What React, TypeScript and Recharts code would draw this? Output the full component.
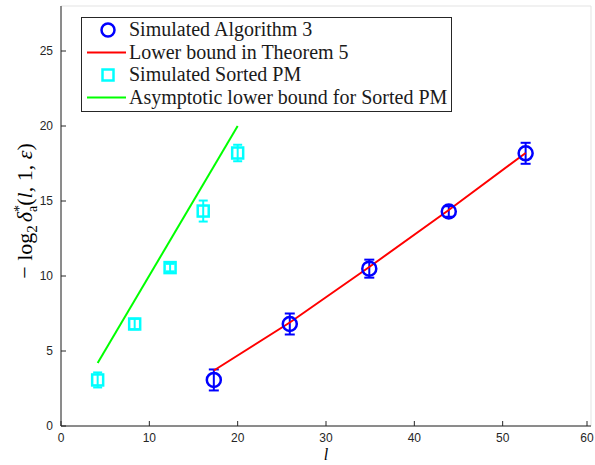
import React from 'react';
import {
  ComposedChart, Scatter, XAxis, YAxis, CartesianGrid, ErrorBar, Legend,
} from 'recharts';

// ---- data ----
const algL = [17.3, 25.9, 34.9, 43.9, 52.6];
const algVal = [3.07, 6.8, 10.49, 14.3, 18.18];
const algErr = [0.7, 0.7, 0.6, 0.35, 0.7];

const boundL = [17.3, 25.9, 34.9, 43.9, 52.6];
const boundVal = [3.7, 6.9, 10.6, 14.4, 18.2];

const sortedL = [4.15, 8.34, 12.35, 16.1, 20.0];
const sortedVal = [3.07, 6.8, 10.56, 14.33, 18.2];
const sortedErr = [0.5, 0.35, 0.25, 0.7, 0.55];

const asymL = [4.15, 20.0];
const asymVal = [4.2, 20.0];

const xTicks = [0, 10, 20, 30, 40, 50, 60];
const yTicks = [0, 5, 10, 15, 20, 25];

const legendLabels = [
  'Simulated Algorithm 3',
  'Lower bound in Theorem 5',
  'Simulated Sorted PM',
  'Asymptotic lower bound for Sorted PM',
];

const algData = algL.map((x, i) => ({ x, y: algVal[i], err: algErr[i] }));
const boundData = boundL.map((x, i) => ({ x, y: boundVal[i] }));
const sortedData = sortedL.map((x, i) => ({ x, y: sortedVal[i], err: sortedErr[i] }));
const asymData = asymL.map((x, i) => ({ x, y: asymVal[i] }));

const BLUE = '#0000ff';
const RED = '#ff0000';
const CYAN = '#00ffff';
const GREEN = '#00ff00';
const AXIS = '#262626';
const TICK_FONT = 'Liberation Sans, Arial, sans-serif';
const SERIF = 'Liberation Serif, Times New Roman, serif';

const BottomTick = (props: any) => {
  const { x, y, payload } = props;
  return (
    <g>
      <line x1={x} x2={x} y1={y} y2={y - 5} stroke={AXIS} strokeWidth={1} />
      <text x={x} y={y + 16} textAnchor="middle" fontFamily={TICK_FONT} fontSize={12} fill={AXIS}>
        {payload.value}
      </text>
    </g>
  );
};
const TopTick = (props: any) => {
  const { x, y } = props;
  return <line x1={x} x2={x} y1={y} y2={y + 5} stroke={AXIS} strokeWidth={1} />;
};
const LeftTick = (props: any) => {
  const { x, y, payload } = props;
  return (
    <g>
      <line x1={x} x2={x + 5} y1={y} y2={y} stroke={AXIS} strokeWidth={1} />
      <text x={x - 8} y={y + 4} textAnchor="end" fontFamily={TICK_FONT} fontSize={12} fill={AXIS}>
        {payload.value}
      </text>
    </g>
  );
};
const RightTick = (props: any) => {
  const { x, y } = props;
  return <line x1={x} x2={x - 5} y1={y} y2={y} stroke={AXIS} strokeWidth={1} />;
};

const Circle = (props: any) => {
  const { cx, cy } = props;
  if (cx == null || cy == null) return <g />;
  return <circle cx={cx} cy={cy} r={7} fill="none" stroke={BLUE} strokeWidth={2.5} />;
};
const Square = (props: any) => {
  const { cx, cy } = props;
  if (cx == null || cy == null) return <g />;
  return <rect x={cx - 5.5} y={cy - 5.5} width={11} height={11} fill="none" stroke={CYAN} strokeWidth={2.5} />;
};
const NoShape = () => <g />;

const YLabel = () => {
  const cx = 32;
  const cy = 211;
  return (
    <text
      transform={`translate(${cx},${cy}) rotate(-90)`}
      textAnchor="middle"
      fontFamily={SERIF}
      fontSize={22}
      fill="#000"
    >
      <tspan>− log</tspan>
      <tspan fontSize={15} dy={5}>2</tspan>
      <tspan dy={-5} dx={3} fontStyle="italic">δ</tspan>
      <tspan fontSize={14} dy={-8}>*</tspan>
      <tspan fontSize={14} dy={13} dx={-7}>a</tspan>
      <tspan dy={-5}>(</tspan>
      <tspan fontStyle="italic">l</tspan>
      <tspan>, 1, </tspan>
      <tspan fontStyle="italic">ε</tspan>
      <tspan>)</tspan>
    </text>
  );
};

const XLabel = (props: any) => {
  const { viewBox } = props;
  const cx = viewBox.x + viewBox.width / 2;
  return (
    <text x={cx} y={viewBox.y + 34} textAnchor="middle" fontFamily={SERIF} fontStyle="italic" fontSize={16} fill="#000">
      l
    </text>
  );
};

const LegendBox = () => {
  const rowH = 22.5;
  return (
    <div
      style={{
        width: 371,
        height: 95,
        boxSizing: 'border-box',
        border: `1px solid ${AXIS}`,
        background: '#fff',
        position: 'relative',
      }}
    >
      <svg width={371} height={95} style={{ position: 'absolute', left: -1, top: -1 }}>
        <circle cx={27} cy={13} r={6.5} fill="none" stroke={BLUE} strokeWidth={2.5} />
        <line x1={6} x2={45} y1={13 + rowH} y2={13 + rowH} stroke={RED} strokeWidth={2} />
        <rect x={21.5} y={13 + 2 * rowH - 5.5} width={11} height={11} fill="none" stroke={CYAN} strokeWidth={2.5} />
        <line x1={6} x2={45} y1={13 + 3 * rowH} y2={13 + 3 * rowH} stroke={GREEN} strokeWidth={2} />
        {legendLabels.map((t, i) => (
          <text key={t} x={48} y={19 + i * rowH} fontFamily={SERIF} fontSize={20} fill="#1a1a1a">
            {t}
          </text>
        ))}
      </svg>
    </div>
  );
};

export default function App() {
  return (
    <div style={{ position: 'absolute', left: 0, top: 0, width: 595, height: 465, background: '#fff' }}>
      <ComposedChart width={595} height={465} margin={{ top: 6, right: 4, bottom: 0, left: 0 }}>
        <CartesianGrid stroke="#e3e3e3" strokeWidth={1} />
        <XAxis
          xAxisId="b"
          type="number"
          dataKey="x"
          domain={[0, 60]}
          ticks={xTicks}
          height={39}
          tickSize={0}
          tickMargin={0}
          tickLine={false}
          tick={<BottomTick />}
          axisLine={{ stroke: AXIS }}
          allowDataOverflow
          label={<XLabel />}
        />
        <XAxis
          xAxisId="t"
          orientation="top"
          type="number"
          dataKey="x"
          domain={[0, 60]}
          ticks={xTicks}
          height={0}
          tickSize={0}
          tickMargin={0}
          tickLine={false}
          tick={<TopTick />}
          axisLine={{ stroke: AXIS }}
        />
        <YAxis
          yAxisId="l"
          type="number"
          dataKey="y"
          domain={[0, 28]}
          ticks={yTicks}
          width={61}
          tickSize={0}
          tickMargin={0}
          tickLine={false}
          tick={<LeftTick />}
          axisLine={{ stroke: AXIS }}
          allowDataOverflow
          label={<YLabel />}
        />
        <YAxis
          yAxisId="r"
          orientation="right"
          type="number"
          dataKey="y"
          domain={[0, 28]}
          ticks={yTicks}
          width={0}
          tickSize={0}
          tickMargin={0}
          tickLine={false}
          tick={<RightTick />}
          axisLine={{ stroke: AXIS }}
        />
        <Legend
          layout="vertical"
          align="center"
          verticalAlign="middle"
          content={<LegendBox />}
          wrapperStyle={{ left: 81, top: 17, width: 371, height: 95 }}
        />
        <Scatter
          name={legendLabels[3]}
          data={asymData}
          xAxisId="b"
          yAxisId="l"
          line={{ stroke: GREEN, strokeWidth: 2 }}
          shape={<NoShape />}
          isAnimationActive={false}
        />
        <Scatter
          name={legendLabels[1]}
          data={boundData}
          xAxisId="b"
          yAxisId="l"
          line={{ stroke: RED, strokeWidth: 2 }}
          shape={<NoShape />}
          isAnimationActive={false}
        />
        <Scatter
          name={legendLabels[2]}
          data={sortedData}
          xAxisId="b"
          yAxisId="l"
          shape={<Square />}
          isAnimationActive={false}
        >
          <ErrorBar dataKey="err" direction="y" width={4.5} stroke={CYAN} strokeWidth={2} isAnimationActive={false} />
        </Scatter>
        <Scatter
          name={legendLabels[0]}
          data={algData}
          xAxisId="b"
          yAxisId="l"
          shape={<Circle />}
          isAnimationActive={false}
        >
          <ErrorBar dataKey="err" direction="y" width={5} stroke={BLUE} strokeWidth={2} isAnimationActive={false} />
        </Scatter>
      </ComposedChart>
    </div>
  );
}
